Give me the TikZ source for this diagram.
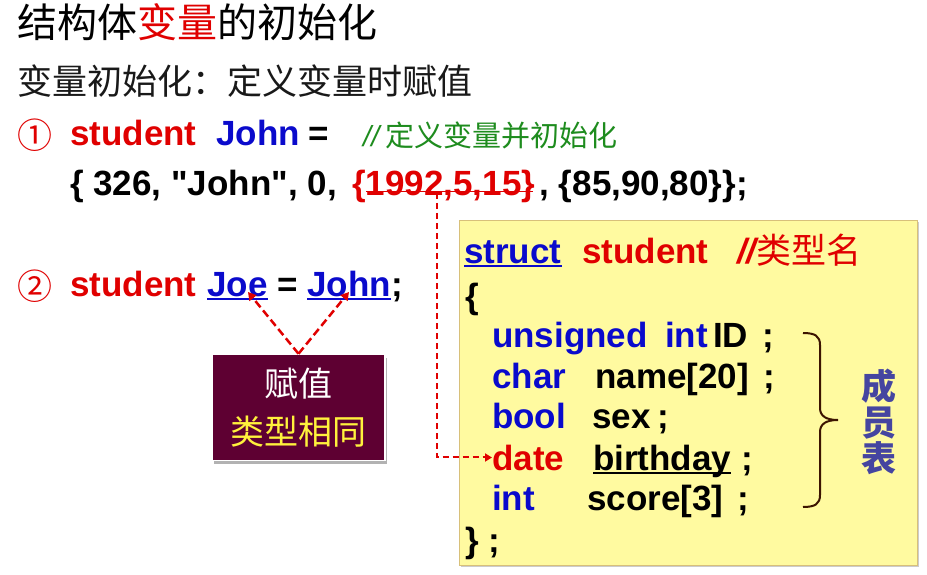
\documentclass[tikz,border=0pt]{standalone}
\usepackage{fontspec}
\setmainfont{Liberation Sans}[Ligatures=TeXOff]
\newfontfamily\cjk{Noto Sans CJK SC}
\usetikzlibrary{shadows,arrows.meta}
\definecolor{cred}{HTML}{E00000}
\definecolor{cblue}{HTML}{0A0ACC}
\definecolor{cgreen}{HTML}{1E8C1E}
\definecolor{cmaroon}{HTML}{5E0032}
\definecolor{cyel}{HTML}{FFF23C}
\definecolor{boxfill}{HTML}{FFFAA0}
\definecolor{boxline}{HTML}{D8C07A}
\definecolor{cbrown}{HTML}{3C1400}
\definecolor{cmem}{HTML}{4545A0}
\begin{document}
\begin{tikzpicture}[x=1pt,y=-1pt,
  lat/.style={inner sep=0pt, anchor=base west, font=\fontsize{35}{40}\selectfont\bfseries},
  cj/.style={inner sep=0pt, anchor=west},
  reddash/.style={draw=cred, line width=2.5pt, dash pattern=on 8pt off 4pt},
  tipa/.style={-{Triangle[length=8pt,width=9pt]}},
  uline/.style={line width=1.8pt},
  memtxt/.style={inner sep=0pt, align=center, font=\cjk\bfseries\fontsize{35}{36}\selectfont}]
\useasboundingbox (0,0) rectangle (927,575);
\fill[white] (0,0) rectangle (927,575);

% title and subtitle
\node[cj, font=\cjk\fontsize{40}{44}\selectfont] (title) at (17,22) {结构体\textcolor{cred}{变量}的初始化};
\node[cj, font=\cjk\fontsize{35}{40}\selectfont, text=black!90] (sub) at (17,81) {变量初始化：定义变量时赋值};

% line 1
\node[cj, font=\cjk\fontsize{35}{40}\selectfont, text=cred] (n1) at (17,135) {①};
\node[lat, text=cred] (st1) at (70,146) {student};
\node[lat, text=cblue] (john1) at (216,146) {John};
\node[lat] (eq1) at (308,146) {=};
\node[cj, text=cgreen, font=\cjk\fontsize{29}{34}\selectfont] (cm1) at (363,135) {{\rmfamily\itshape //} 定义变量并初始化};
\node[lat] (ini1) at (70,196) {\{ 326, "John", 0,};
\node[lat, text=cred] (date1) at (352,196) {\{1992,5,15\}};
\node[lat] (ini2) at ([xshift=4pt]date1.base east) {, \{85,90,80\}\};};
\draw[cred, line width=1.5pt] (366,191.5) -- (533,191.5);
\coordinate (sk) at (437,193);

% line 2
\node[cj, font=\cjk\fontsize{35}{40}\selectfont, text=cred] (n2) at (17,286) {②};
\node[lat, text=cred] (st2) at (70,296) {student};
\node[lat, text=cblue] (joe) at (207,296) {Joe};
\node[lat] (eq2) at (277,296) {=};
\node[lat, text=cblue] (john2) at (307,296) {John};
\node[lat] (semi2) at (john2.base east) {;};
\draw[cblue, uline] ([yshift=-3pt]joe.base west) -- ([yshift=-3pt]joe.base east);
\draw[cblue, uline] ([yshift=-3pt]john2.base west) -- ([yshift=-3pt]john2.base east);

% assignment box
\node[fill=cmaroon, draw=white, line width=1.5pt, inner sep=0pt,
      minimum width=173pt, minimum height=106pt,
      drop shadow={shadow xshift=2pt, shadow yshift=-3pt, opacity=0.3, fill=black}] (asg) at (298.5,407.5) {};
\node[inner sep=0pt, text=white, font=\cjk\fontsize{34}{38}\selectfont] (fz) at (298,384) {赋值};
\node[inner sep=0pt, text=cyel, font=\cjk\fontsize{34}{38}\selectfont] (lx) at (298,432) {类型相同};
\coordinate (joeT) at (248,292);
\coordinate (johnT) at (349,292);
\draw[reddash, tipa] (asg.north) -- (joeT);
\draw[reddash, tipa] (asg.north) -- (johnT);

% struct box
\node[draw=boxline, fill=boxfill, line width=1pt, inner sep=0pt,
      minimum width=458pt, minimum height=345pt,
      drop shadow={shadow xshift=2pt, shadow yshift=-2pt, opacity=0.2, fill=black}] (sbox) at (688,392.5) {};
\node[lat, text=cblue] (kst) at (464,263) {struct};
\draw[cblue, uline] ([yshift=-3pt]kst.base west) -- ([yshift=-3pt]kst.base east);
\node[lat, text=cred] (kstu) at (582,263) {student};
\node[lat, text=cred] (kcm) at (737,263) {{\itshape //}{\cjk\mdseries 类型名}};
\node[lat] (lb) at (465,308) {\{};
\node[lat, text=cblue] (m1a) at (492,347) {unsigned};
\node[lat, text=cblue] (m1b) at (665,347) {int};
\node[lat] (m1c) at (713,347) {ID};
\node[lat] (m1d) at (762,347) {;};
\node[lat, text=cblue] (m2a) at (492,388) {char};
\node[lat] (m2b) at (595,388) {name[20]};
\node[lat] (m2c) at (763,388) {;};
\node[lat, text=cblue] (m3a) at (492,428) {bool};
\node[lat] (m3b) at (592,428) {sex};
\node[lat] (m3c) at (657,428) {;};
\node[lat, text=cred] (m4a) at (492,470) {date};
\node[lat] (m4b) at (593,470) {birthday};
\draw[black, uline] ([yshift=-3pt]m4b.base west) -- ([yshift=-3pt]m4b.base east);
\node[lat] (m4c) at (741,470) {;};
\node[lat, text=cblue] (m5a) at (492,510) {int};
\node[lat] (m5b) at (587,510) {score[3]};
\node[lat] (m5c) at (737,510) {;};
\node[lat] (rb) at (465,552) {\} ;};

% brace
\draw[cbrown, line width=2pt]
  (803,333) .. controls (815,333) and (820,336) .. (820,345) -- (820,408)
  .. controls (820,416) and (826,420) .. (838,420)
  .. controls (826,420) and (820,424) .. (820,432) -- (820,495)
  .. controls (820,504) and (815,507) .. (803,507);

% member label
\node[memtxt, text=cmem] (mem) at (879,422) {成\\员\\表};

% connector to date
\draw[draw=cred, line width=2pt, dash pattern=on 6pt off 4pt, -{Triangle[length=7pt,width=8pt]}] (sk) |- (m4a.west);
\end{tikzpicture}
\end{document}
